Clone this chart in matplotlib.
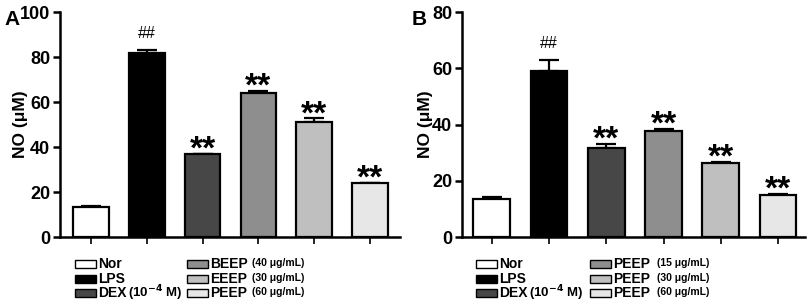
import matplotlib.pyplot as plt
from matplotlib.patches import Rectangle

plt.rcParams["font.family"] = ["Liberation Sans", "DejaVu Sans"]
plt.rcParams["font.weight"] = "bold"
plt.rcParams["mathtext.default"] = "bf"

# Panel A
groups_a = ["Nor", "LPS", "DEX", "BEEP", "EEEP", "PEEP"]
conc_a = ["", "", "(10$^{-4}$ M)", "(40 μg/mL)", "(30 μg/mL)", "(60 μg/mL)"]
values_a = [13.3, 82.0, 36.7, 64.2, 51.2, 23.8]
errors_a = [0.4, 1.0, 0.4, 0.7, 1.6, 0.4]
marks_a = ["", "##", "**", "**", "**", "**"]

# Panel B
groups_b = ["Nor", "LPS", "DEX", "PEEP", "PEEP", "PEEP"]
conc_b = ["", "", "(10$^{-4}$ M)", "(15 μg/mL)", "(30 μg/mL)", "(60 μg/mL)"]
values_b = [13.6, 59.0, 31.8, 37.6, 26.2, 14.8]
errors_b = [0.6, 3.8, 1.3, 0.8, 0.4, 0.5]
marks_b = ["", "##", "**", "**", "**", "**"]

colors = ["#ffffff", "#000000", "#474747", "#8e8e8e", "#bfbfbf", "#e7e7e7"]

fig = plt.figure(figsize=(8.09, 3.02), dpi=100)


def panel(rect, values, errors, marks, ymax, xlim, letter, letter_x, ylab_x):
    ax = fig.add_axes(rect)
    x = range(len(values))
    ax.bar(x, values, width=0.64, color=colors, edgecolor="black", linewidth=1.6, zorder=2)
    ax.errorbar(x, values, yerr=[[0] * len(errors), errors], fmt="none",
                ecolor="black", elinewidth=1.6, capsize=7, capthick=1.6, zorder=1)
    for xi, v, e, m in zip(x, values, errors, marks):
        if m == "##":
            ax.annotate(m, (xi, v + e), xytext=(0, 7), textcoords="offset points",
                        ha="center", va="bottom", fontsize=11.5, fontweight="normal")
        elif m:
            ax.annotate(m, (xi, v + e), xytext=(0, -3.5), textcoords="offset points",
                        ha="center", va="baseline", fontsize=24, fontweight="bold")
    ax.set_xlim(*xlim)
    ax.set_ylim(0, ymax)
    ax.set_yticks(range(0, ymax + 1, 20))
    ax.set_xticks(list(x))
    ax.set_xticklabels([])
    ax.spines["top"].set_visible(False)
    ax.spines["right"].set_visible(False)
    ax.spines["left"].set_linewidth(1.8)
    ax.spines["bottom"].set_linewidth(1.8)
    ax.tick_params(axis="y", length=5, width=1.8, labelsize=13, pad=2)
    ax.tick_params(axis="x", length=5, width=1.2)
    for lab in ax.get_yticklabels():
        lab.set_fontweight("bold")
    ax.set_ylabel("NO (μM)", fontsize=12.5, fontweight="bold")
    ax.yaxis.set_label_coords(ylab_x, 0.5)
    ax.text(letter_x, 1.01, letter, transform=ax.transAxes, fontsize=15,
            fontweight="bold", ha="left", va="top")
    return ax


panel([0.0742, 0.2152, 0.42, 0.745], values_a, errors_a, marks_a, 100,
      (-0.55, 5.53), "A", -0.162, -0.095)
panel([0.571, 0.2152, 0.424, 0.745], values_b, errors_b, marks_b, 80,
      (-0.52, 5.47), "B", -0.148, -0.085)


def legend(x_cols, txt_cols, groups, conc):
    rows_y = [264, 279, 293]
    for i, (g, c) in enumerate(zip(groups, conc)):
        col, row = divmod(i, 3)
        px = x_cols[col]
        py = rows_y[row]
        fig.patches.append(Rectangle((px / 809, 1 - (py + 4) / 302), 21 / 809, 8 / 302,
                                     transform=fig.transFigure, facecolor=colors[i],
                                     edgecolor="black", linewidth=1.0))
        fig.text((px + 23) / 809, 1 - py / 302, g, fontsize=10,
                 fontweight="bold", va="center", ha="left")
        if c:
            if col == 0:
                fig.text((px + 53) / 809, 1 - py / 302, c, fontsize=9.5,
                         fontweight="bold", va="center", ha="left")
            else:
                fig.text(txt_cols[col] / 809, 1 - (py - 1) / 302, c, fontsize=7.5,
                         fontweight="bold", va="center", ha="left")


legend([75, 187], [0, 252], groups_a, conc_a)
legend([476, 590], [0, 657], groups_b, conc_b)

fig.savefig("out.png", dpi=100)
